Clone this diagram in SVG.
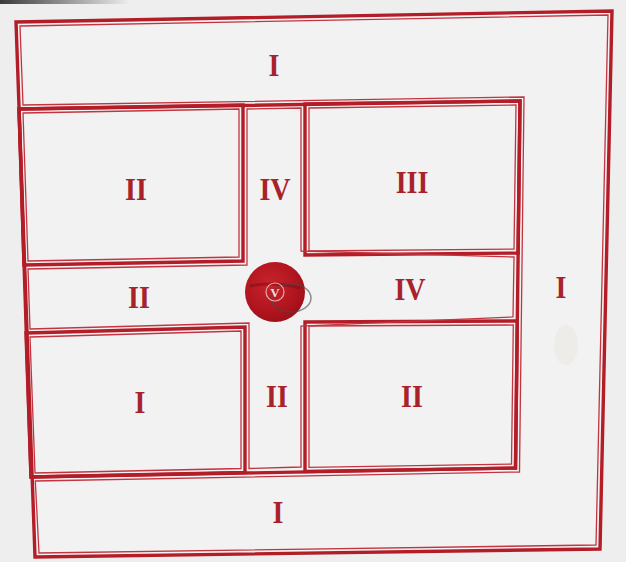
<svg xmlns="http://www.w3.org/2000/svg" width="626" height="562" viewBox="0 0 626 562">
  <defs>
    <style>
      .thick { fill: none; stroke: #b31d27; stroke-width: 3.4; stroke-linejoin: miter; }
      .thin { fill: none; stroke: #c23440; stroke-width: 1.3; stroke-linejoin: miter; }
      .lbl { font-family: "Liberation Serif", "Times New Roman", serif; font-weight: bold; font-size: 28px; fill: #a8222c; text-anchor: middle; }
    </style>
    <radialGradient id="disc" cx="0.42" cy="0.38" r="0.65">
      <stop offset="0" stop-color="#c8242c"/>
      <stop offset="0.7" stop-color="#b0141e"/>
      <stop offset="1" stop-color="#9c1018"/>
    </radialGradient>
    <linearGradient id="shade" x1="0" y1="0" x2="1" y2="0">
      <stop offset="0" stop-color="#3a3a3a"/>
      <stop offset="1" stop-color="#3a3a3a" stop-opacity="0"/>
    </linearGradient>
  </defs>

  <rect width="626" height="562" fill="#eeeeee"/>
  <rect x="0" y="0" width="130" height="4" fill="url(#shade)"/>

  <g id="outer-region">
    <polygon points="16,22 612,11 600,549 35,557" fill="#f2f2f2"/>
    <ellipse cx="566" cy="345" rx="12" ry="20" fill="#e6e2d6" opacity="0.35"/>
    <polygon class="thick" points="16,22 612,11 600,549 35,557"/>
    <polygon class="thick" points="19,109 520,101 515.5,468 31,477"/>
    <polygon class="thin" points="20,26 608,15 596,545 39,553 35.3,481 519.5,472 524,97 23,105"/>
    <text class="lbl" transform="translate(274,76) scale(1,1.12)">I</text>
    <text class="lbl" transform="translate(561,298) scale(1,1.12)">I</text>
    <text class="lbl" transform="translate(278,523) scale(1,1.12)">I</text>
  </g>

  <g id="box-top-left">
    <polygon class="thick" points="19,109 243,105 243,261 24,265"/>
    <polygon class="thin" points="23,113 239,109 239,257 28,261"/>
    <text class="lbl" transform="translate(136,200) scale(1,1.12)">II</text>
  </g>

  <g id="box-top-right">
    <polygon class="thick" points="305,104 520,101 518,253 305,255"/>
    <polygon class="thin" points="309,108 516,105 514,249 309,251"/>
    <text class="lbl" transform="translate(412,193) scale(1,1.12)">III</text>
  </g>

  <g id="box-bottom-left">
    <polygon class="thick" points="26,333 245,327 245,472.5 31,477"/>
    <polygon class="thin" points="30,337 241,331 241,468.5 35,473"/>
    <text class="lbl" transform="translate(140,413) scale(1,1.12)">I</text>
  </g>

  <g id="box-bottom-right">
    <polygon class="thick" points="305,322 517.3,321 515.5,468 305,471.4"/>
    <polygon class="thin" points="309,326 513.3,325 511.5,464 309,467.4"/>
    <text class="lbl" transform="translate(412,407) scale(1,1.12)">II</text>
  </g>

  <g id="cross">
    <polygon class="thin" points="247,109 301,108 301,251 514,257 513,317 301,326 301,467 249,468.5 249,323 30,329 28,269 247,265"/>
    <text class="lbl" transform="translate(275,200) scale(1,1.12)">IV</text>
    <text class="lbl" transform="translate(139,308) scale(1,1.12)">II</text>
    <text class="lbl" transform="translate(410,300) scale(1,1.12)">IV</text>
    <text class="lbl" transform="translate(277,407) scale(1,1.12)">II</text>
  </g>

  <g id="centre-disc">
    <circle cx="275" cy="292" r="30" fill="url(#disc)"/>
    <path d="M250,286 Q275,281 300,288" fill="none" stroke="#7a0c12" stroke-width="3" opacity="0.5"/>
    <ellipse cx="291" cy="298" rx="20" ry="14" fill="none" stroke="#4a4a4a" stroke-width="1.5" opacity="0.6"/>
    <circle cx="275" cy="292" r="9" fill="none" stroke="#e7a9ad" stroke-width="1.2"/>
    <text x="275" y="297" font-family="Liberation Serif, serif" font-weight="bold" font-size="13" fill="#f4dede" text-anchor="middle">V</text>
  </g>
</svg>
